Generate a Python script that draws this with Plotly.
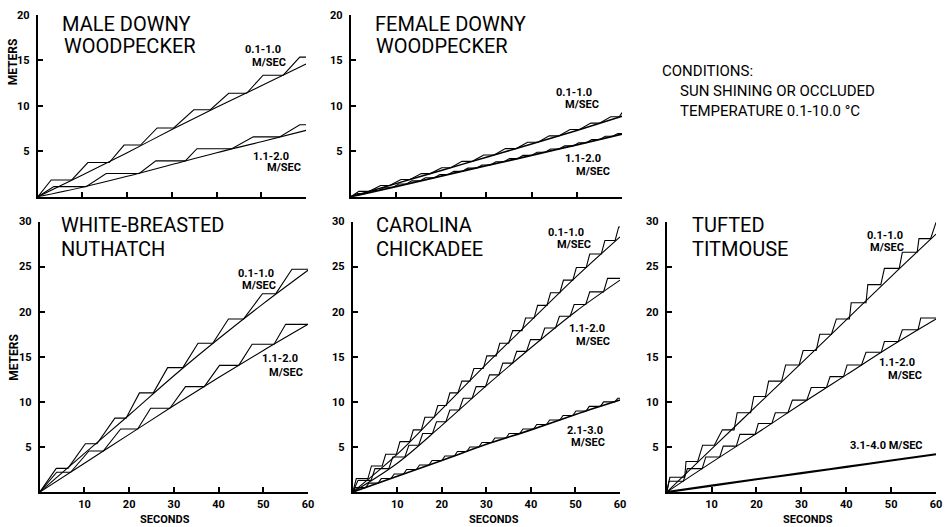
import plotly.graph_objects as go

W, H = 945, 527

def px(x):
    return x / W

def py(y):
    return 1 - y / H

# ---------------- DATA ----------------
# time grid for the fitted (smooth) curves, seconds
t_fit = [0, 10, 20, 30, 40, 50, 60]

# Male Downy Woodpecker
male_fast_fit = [0, 2.4, 4.85, 7.4, 9.85, 12.2, 14.6]        # 0.1-1.0 m/s
male_fast_lv = [1.85, 3.77, 5.69, 7.57, 9.57, 11.38, 13.37, 15.36]
male_fast_st = [3.0, 11.2, 19.3, 26.7, 34.9, 42.7, 50.4, 58.6]
male_fast_en = [7.6, 16.0, 23.0, 30.4, 38.6, 46.7, 54.9, 60.0]
male_slow_fit = [0, 1.05, 2.25, 3.55, 4.85, 6.05, 7.3]        # 1.1-2.0 m/s
male_slow_lv = [1.12, 2.57, 3.95, 5.29, 6.59, 7.93]
male_slow_st = [3.6, 15.3, 26.4, 35.6, 48.2, 58.6]
male_slow_en = [10.8, 22.7, 33.0, 43.4, 54.1, 60.0]

# Female Downy Woodpecker
fem_fast_fit = [0, 1.45, 2.9, 4.35, 5.8, 7.3, 8.85]
fem_fast_lv = [0.6, 1.25, 1.9, 2.55, 3.2, 3.9, 4.6, 5.3, 6.0, 6.7, 7.4, 8.1, 8.8, 9.25]
fem_fast_st = [1.8, 6.6, 11.1, 15.6, 20.1, 24.6, 29.4, 34.2, 39.1, 43.9, 48.5, 53.1, 57.5, 60.0]
fem_fast_en = [4.1, 8.6, 13.1, 17.6, 22.1, 26.9, 31.7, 36.6, 41.4, 46.0, 50.6, 55.0, 59.4, 60.0]
fem_slow_fit = [0, 1.12, 2.27, 3.42, 4.55, 5.72, 6.9]
fem_slow_lv = [0.35, 0.7, 1.05, 1.4, 1.75, 2.1, 2.45, 2.8, 3.15, 3.5, 3.85, 4.2, 4.55, 4.9,
               5.25, 5.6, 5.95, 6.3, 6.65, 6.95]
fem_slow_st = [1.5, 4.4, 7.5, 10.6, 13.5, 16.5, 19.7, 22.8, 25.9, 29.0, 32.1, 35.1, 38.1, 41.2,
               44.2, 47.3, 50.4, 53.3, 56.3, 59.1]
fem_slow_en = [3.1, 6.2, 9.4, 12.3, 15.3, 18.5, 21.6, 24.7, 27.8, 30.9, 33.9, 36.9, 40.0, 43.0,
               46.1, 49.2, 52.1, 55.1, 57.9, 60.0]

# White-breasted Nuthatch
nut_fast_fit = [0, 4.3, 8.55, 12.9, 17.0, 20.9, 24.6]
nut_fast_lv = [2.63, 5.36, 8.2, 11.0, 13.8, 16.5, 19.2, 22.0, 24.7]
nut_fast_st = [3.7, 10.2, 16.8, 22.3, 28.6, 35.4, 42.2, 49.8, 56.4]
nut_fast_en = [6.3, 12.8, 19.3, 25.4, 32.0, 38.7, 45.6, 52.8, 60.0]
nut_slow_fit = [0, 3.2, 6.4, 9.6, 12.7, 15.7, 18.6]
nut_slow_lv = [2.2, 4.56, 7.0, 9.3, 11.7, 14.05, 16.4, 18.6]
nut_slow_st = [3.8, 11.0, 18.1, 24.8, 32.6, 40.2, 47.5, 55.0]
nut_slow_en = [6.9, 14.2, 21.9, 29.1, 36.8, 44.5, 52.4, 60.0]

# Carolina Chickadee
chk_fast_fit = [0, 4.2, 9.2, 14.2, 19.0, 23.8, 28.3]
chk_fast_lv = [1.5, 2.9, 4.2, 5.6, 6.9, 8.3, 9.6, 11.0, 12.3, 13.7, 15.1, 16.5, 17.9, 19.3,
               20.7, 22.1, 23.5, 24.9, 26.4, 27.9, 29.4]
chk_fast_st = [0.8, 4.2, 7.4, 10.6, 13.6, 16.2, 19.1, 21.8, 24.5, 27.2, 30.1, 33.0, 35.9, 38.8,
               41.5, 44.4, 47.3, 50.2, 53.2, 56.6, 59.7]
chk_fast_en = [3.4, 6.6, 9.8, 12.8, 15.4, 18.3, 21.0, 23.6, 26.3, 29.3, 32.2, 35.0, 38.0, 40.7,
               43.6, 46.5, 49.4, 52.4, 55.8, 58.9, 60.0]
chk_mid_fit = [0, 3.2, 7.4, 11.8, 16.0, 20.0, 23.5]
chk_mid_lv = [1.3, 2.6, 3.9, 5.2, 6.5, 7.8, 9.1, 10.4, 11.7, 13.0, 14.3, 15.6, 16.9, 18.2,
              19.5, 20.8, 22.2, 23.7]
chk_mid_st = [1.2, 5.0, 9.0, 12.6, 15.7, 18.8, 21.8, 24.8, 27.7, 30.7, 33.7, 36.8, 39.9, 43.1,
              46.4, 49.7, 53.2, 57.2]
chk_mid_en = [4.1, 8.1, 11.7, 14.8, 17.9, 20.9, 23.9, 26.8, 29.8, 32.8, 35.9, 39.0, 42.2, 45.5,
              48.8, 52.3, 56.3, 60.0]
chk_slow_fit = [0, 1.75, 3.5, 5.3, 6.9, 8.6, 10.2]
chk_slow_lv = [0.5, 1.0, 1.5, 2.0, 2.5, 3.0, 3.5, 4.0, 4.5, 5.0, 5.5, 6.0, 6.5, 7.0, 7.5, 8.0,
               8.5, 9.0, 9.5, 10.0, 10.4]
chk_slow_st = [0.6, 3.6, 6.4, 9.3, 12.1, 15.0, 17.8, 20.7, 23.5, 26.3, 29.0, 31.9, 35.1, 38.2,
               41.3, 44.2, 47.2, 50.1, 53.1, 56.3, 59.5]
chk_slow_en = [2.9, 5.7, 8.6, 11.4, 14.3, 17.1, 20.0, 22.8, 25.6, 28.3, 31.2, 34.4, 37.5, 40.6,
               43.5, 46.5, 49.4, 52.4, 55.6, 58.8, 60.0]

# Tufted Titmouse
tit_fast_fit = [0, 4.8, 9.55, 14.3, 19.1, 23.9, 28.6]
tit_fast_lv = [1.64, 3.4, 5.2, 6.9, 8.8, 10.6, 12.3, 14.1, 15.7, 17.5, 19.2, 21.0, 23.0, 24.8,
               26.6, 28.1, 29.9]
tit_fast_st = [0.7, 4.3, 8.0, 12.4, 15.7, 19.4, 22.7, 26.5, 30.4, 34.1, 37.8, 41.1, 44.8, 48.5,
               52.5, 56.2, 60.0]
tit_fast_en = [4.0, 6.9, 10.6, 15.0, 18.7, 22.0, 25.6, 29.5, 33.3, 36.7, 40.7, 44.4, 47.7, 51.8,
               55.8, 58.8, 60.0]
tit_mid_fit = [0, 3.3, 6.5, 9.8, 13.0, 16.2, 19.2]
tit_mid_lv = [1.2, 2.6, 3.9, 5.1, 6.4, 7.6, 8.8, 10.2, 11.6, 12.8, 14.1, 15.5, 16.7, 18.0, 19.3]
tit_mid_st = [0.5, 4.6, 8.7, 12.6, 16.3, 20.4, 24.2, 28.0, 32.2, 36.4, 40.2, 44.4, 48.5, 52.5, 56.6]
tit_mid_en = [3.7, 7.9, 11.8, 15.5, 19.7, 23.4, 27.0, 31.2, 35.6, 39.4, 43.4, 47.8, 51.6, 56.0, 60.0]
tit_slow_fit = [0, 0.72, 1.42, 2.1, 2.8, 3.5, 4.2]

x_ticks = [10, 20, 30, 40, 50, 60]
y_ticks_top = [5, 10, 15, 20]
y_ticks_bot = [5, 10, 15, 20, 25, 30]

# ---------------- FIGURE ----------------
FONT = "Roboto"
fig = go.Figure()


def steps(st, en, lv):
    xs, ys = [0.0], [0.0]
    for s, e, l in zip(st, en, lv):
        xs += [s, e]
        ys += [l, l]
    return xs, ys


def add_line(xs, ys, n, width=1.1):
    fig.add_trace(go.Scatter(x=xs, y=ys, mode="lines",
                             line=dict(color="black", width=width),
                             xaxis="x" if n == 1 else f"x{n}",
                             yaxis="y" if n == 1 else f"y{n}",
                             hoverinfo="skip", showlegend=False))


def add_fit(vals, n, width=1.1):
    fig.add_trace(go.Scatter(x=t_fit, y=vals, mode="lines",
                             line=dict(color="black", width=width, shape="spline"),
                             xaxis="x" if n == 1 else f"x{n}",
                             yaxis="y" if n == 1 else f"y{n}",
                             hoverinfo="skip", showlegend=False))


def add_steps(st, en, lv, n, width=1.1):
    xs, ys = steps(st, en, lv)
    add_line(xs, ys, n, width)


# panel 1
add_fit(male_fast_fit, 1); add_steps(male_fast_st, male_fast_en, male_fast_lv, 1)
add_fit(male_slow_fit, 1); add_steps(male_slow_st, male_slow_en, male_slow_lv, 1)
# panel 2
add_fit(fem_fast_fit, 2, 1.5); add_steps(fem_fast_st, fem_fast_en, fem_fast_lv, 2)
add_fit(fem_slow_fit, 2, 1.8); add_steps(fem_slow_st, fem_slow_en, fem_slow_lv, 2)
# panel 3
add_fit(nut_fast_fit, 3); add_steps(nut_fast_st, nut_fast_en, nut_fast_lv, 3)
add_fit(nut_slow_fit, 3); add_steps(nut_slow_st, nut_slow_en, nut_slow_lv, 3)
# panel 4
add_fit(chk_fast_fit, 4); add_steps(chk_fast_st, chk_fast_en, chk_fast_lv, 4)
add_fit(chk_mid_fit, 4); add_steps(chk_mid_st, chk_mid_en, chk_mid_lv, 4)
add_fit(chk_slow_fit, 4, 1.6); add_steps(chk_slow_st, chk_slow_en, chk_slow_lv, 4)
# panel 5
add_fit(tit_fast_fit, 5); add_steps(tit_fast_st, tit_fast_en, tit_fast_lv, 5)
add_fit(tit_mid_fit, 5); add_steps(tit_mid_st, tit_mid_en, tit_mid_lv, 5)
add_fit(tit_slow_fit, 5, 2.1)

panels = [
    dict(xd=(38, 308), yd=(9, 193), yr=[0, 20], yt=y_ticks_top, lab=False),
    dict(xd=(353, 626), yd=(9, 193), yr=[0, 20], yt=y_ticks_top, lab=False),
    dict(xd=(40, 310), yd=(218, 491.7), yr=[0, 30], yt=y_ticks_bot, lab=True),
    dict(xd=(355, 624), yd=(218, 491.7), yr=[0, 30], yt=y_ticks_bot, lab=True),
    dict(xd=(671, 942), yd=(218, 491.7), yr=[0, 30], yt=y_ticks_bot, lab=True),
]

tickfont = dict(family=FONT, size=11, color="black", weight="bold")
layout = {}
for i, p in enumerate(panels, start=1):
    xn = "xaxis" if i == 1 else f"xaxis{i}"
    yn = "yaxis" if i == 1 else f"yaxis{i}"
    layout[xn] = dict(domain=[px(p["xd"][0]), px(p["xd"][1])], range=[0, 60],
                      anchor="y" if i == 1 else f"y{i}",
                      showline=True, linecolor="black", linewidth=2,
                      ticks="inside", ticklen=5, tickwidth=1.5, tickcolor="black",
                      tickvals=x_ticks, showticklabels=p["lab"], tickfont=tickfont,
                      ticklabelstandoff=1,
                      showgrid=False, zeroline=False, fixedrange=True)
    layout[yn] = dict(domain=[py(p["yd"][1]), py(p["yd"][0])], range=p["yr"],
                      anchor="x" if i == 1 else f"x{i}",
                      showline=True, linecolor="black", linewidth=2,
                      ticks="inside", ticklen=5, tickwidth=1.5, tickcolor="black",
                      tickvals=p["yt"], showticklabels=True, tickfont=tickfont,
                      ticklabelstandoff=4,
                      showgrid=False, zeroline=False, fixedrange=True)

annotations = []


def txt(text, x, y, size, xanchor="left", angle=0, weight="normal"):
    annotations.append(dict(text=text, x=px(x), y=py(y), xref="paper", yref="paper",
                            xanchor=xanchor, yanchor="middle", showarrow=False,
                            textangle=angle,
                            font=dict(family=FONT, size=size, color="black", weight=weight)))


# panel titles
txt("MALE DOWNY", 60, 18, 20)
txt("WOODPECKER", 62, 40, 20)
txt("FEMALE DOWNY", 375, 18, 20)
txt("WOODPECKER", 376, 40, 20)
txt("WHITE-BREASTED", 59, 222, 20)
txt("NUTHATCH", 59, 246, 20)
txt("CAROLINA", 376, 222, 20)
txt("CHICKADEE", 376, 246, 20)
txt("TUFTED", 694, 222, 20)
txt("TITMOUSE", 694, 246, 20)

# conditions
txt("CONDITIONS:", 664, 66, 15)
txt("SUN SHINING OR OCCLUDED", 682, 86, 15)
txt("TEMPERATURE 0.1-10.0 °C", 682, 106, 15)

# curve labels
lab = 11
txt("0.1-1.0", 265, 44, lab, "center", weight="bold")
txt("M/SEC", 271, 57, lab, "center", weight="bold")
txt("1.1-2.0", 273, 152, lab, "center", weight="bold")
txt("M/SEC", 286, 163, lab, "center", weight="bold")

txt("0.1-1.0", 578, 88, lab, "center", weight="bold")
txt("M/SEC", 586, 100, lab, "center", weight="bold")
txt("1.1-2.0", 587, 154, lab, "center", weight="bold")
txt("M/SEC", 597, 167, lab, "center", weight="bold")

txt("0.1-1.0", 258, 271, lab, "center", weight="bold")
txt("M/SEC", 261, 283, lab, "center", weight="bold")
txt("1.1-2.0", 282, 357, lab, "center", weight="bold")
txt("M/SEC", 288, 371, lab, "center", weight="bold")

txt("0.1-1.0", 570, 229, lab, "center", weight="bold")
txt("M/SEC", 578, 241, lab, "center", weight="bold")
txt("1.1-2.0", 591, 326, lab, "center", weight="bold")
txt("M/SEC", 597, 339, lab, "center", weight="bold")
txt("2.1-3.0", 589, 429, lab, "center", weight="bold")
txt("M/SEC", 592, 442, lab, "center", weight="bold")

txt("0.1-1.0", 891, 232, lab, "center", weight="bold")
txt("M/SEC", 893, 244, lab, "center", weight="bold")
txt("1.1-2.0", 903, 361, lab, "center", weight="bold")
txt("M/SEC", 911, 374, lab, "center", weight="bold")
txt("3.1-4.0 M/SEC", 892, 445, lab, "center", weight="bold")

# axis titles
txt("METERS", 13, 56, 12, "center", angle=-90, weight="bold")
txt("METERS", 14, 355, 12, "center", angle=-90, weight="bold")
txt("SECONDS", 166, 519, 11, "center", weight="bold")
txt("SECONDS", 497, 519, 11, "center", weight="bold")
txt("SECONDS", 813, 519, 11, "center", weight="bold")

fig.update_layout(width=W, height=H, margin=dict(l=0, r=0, t=0, b=0, pad=0),
                  paper_bgcolor="white", plot_bgcolor="white",
                  annotations=annotations, showlegend=False, **layout)

fig.write_html("out.html", config={"displayModeBar": False},
               post_script="document.body.style.margin='0';")
